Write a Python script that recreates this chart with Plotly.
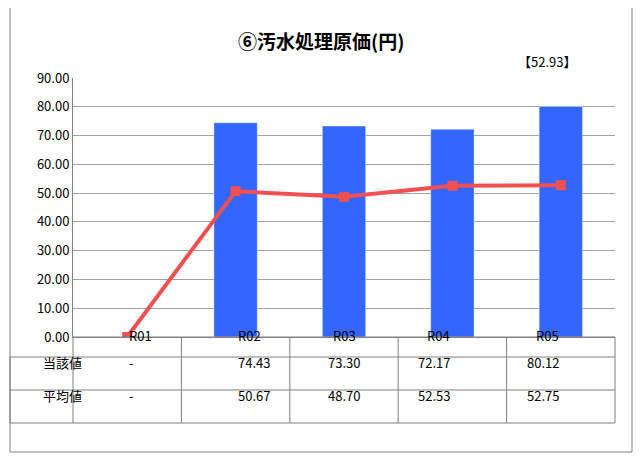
import plotly.graph_objects as go

categories = ["R01", "R02", "R03", "R04", "R05"]
own_values = [None, 74.43, 73.30, 72.17, 80.12]
avg_values = [0.0, 50.67, 48.70, 52.53, 52.75]
own_labels = ["-", "74.43", "73.30", "72.17", "80.12"]
avg_labels = ["-", "50.67", "48.70", "52.53", "52.75"]
row_names = ["当該値", "平均値"]
tick_vals = [0, 10, 20, 30, 40, 50, 60, 70, 80, 90]

# page body has an 8px margin, so work in reference pixels minus 8
OFF = 8
W, H = 643 - 2 * OFF, 470 - 2 * OFF
L, R, T, B = 73, 615, 78, 337
FONT = "Noto Sans CJK JP"


def px(x):
    return (x - L) / (R - L)


def py(y):
    return (B - y) / (B - T)


fig = go.Figure()
fig.add_trace(go.Bar(x=categories, y=own_values, marker_color="#3366FF",
                     width=0.4, name=row_names[0]))
fig.add_trace(go.Scatter(x=categories, y=avg_values, mode="lines+markers",
                         line=dict(color="#F05050", width=4),
                         marker=dict(symbol="square", size=10, color="#F05050"),
                         name=row_names[1]))

shapes = []
line = dict(color="#808080", width=1)
shapes.append(dict(type="rect", xref="paper", yref="paper",
                   x0=px(10), x1=px(632), y0=py(452), y1=py(5),
                   line=dict(color="#808080", width=1)))
for yy in [337, 357, 390, 423]:
    shapes.append(dict(type="line", xref="paper", yref="paper",
                       x0=px(10) if yy != 337 else px(L), x1=px(R),
                       y0=py(yy), y1=py(yy), line=line))
step = (R - L) / len(categories)
for i in range(len(categories) + 1):
    xx = L + i * step
    shapes.append(dict(type="line", xref="paper", yref="paper",
                       x0=px(xx), x1=px(xx), y0=py(337), y1=py(423), line=line))
shapes.append(dict(type="line", xref="paper", yref="paper",
                   x0=px(10), x1=px(10), y0=py(357), y1=py(423), line=line))

ann = []
font = dict(family=FONT, size=13, color="black")
for i, c in enumerate(categories):
    cx = px(L + (i + 0.5) * step)
    ann.append(dict(x=cx, y=py(347), text=c, font=font))
    ann.append(dict(x=cx, y=py(374), text=own_labels[i], font=font))
    ann.append(dict(x=cx, y=py(407), text=avg_labels[i], font=font))
ann.append(dict(x=px(41), y=py(374), text=row_names[0], font=font))
ann.append(dict(x=px(41), y=py(407), text=row_names[1], font=font))
ann.append(dict(x=px(578), y=py(50), text="【52.93】", font=font))
ann.append(dict(x=px(321), y=py(25), text="<b>⑥汚水処理原価(円)</b>",
                font=dict(family=FONT, size=19, color="black")))
for a in ann:
    a.update(xref="paper", yref="paper", showarrow=False)

fig.update_layout(
    width=W, height=H, showlegend=False,
    margin=dict(l=L - OFF, r=643 - OFF - R, t=T - OFF, b=470 - OFF - B),
    paper_bgcolor="white", plot_bgcolor="white",
    shapes=shapes, annotations=ann,
    xaxis=dict(showticklabels=False, showline=True, linecolor="#808080",
               range=[-0.5, 4.5]),
    yaxis=dict(range=[0, 90], tickvals=tick_vals,
               ticktext=[f"{v:.2f}" for v in tick_vals],
               showgrid=True, gridcolor="#A0A0A0", showline=True,
               linecolor="#808080", ticks="", zeroline=False,
               tickfont=dict(family=FONT, size=13, color="black")),
)
fig.write_html("out.html")
